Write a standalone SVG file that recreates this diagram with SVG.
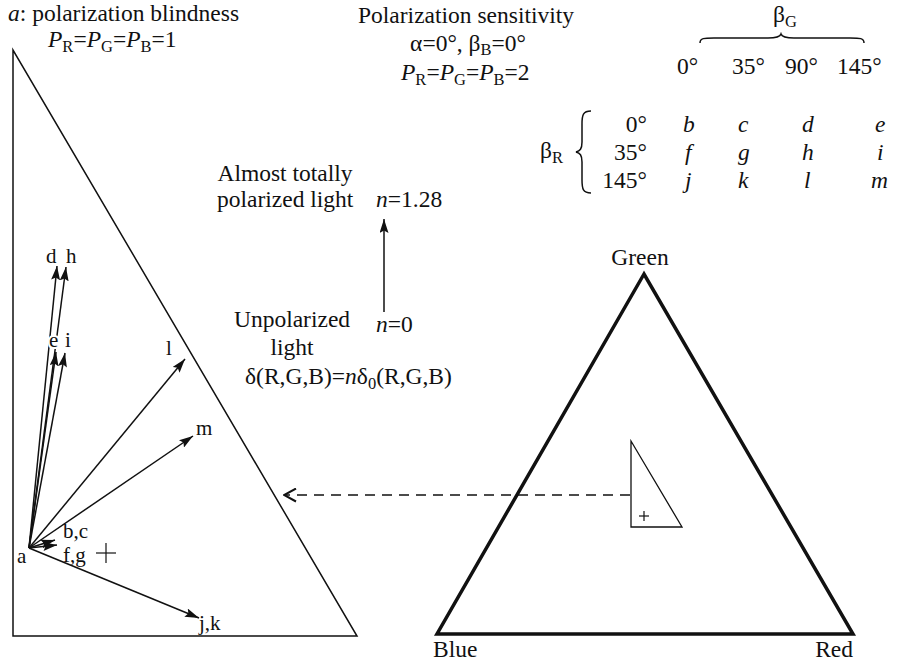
<svg xmlns="http://www.w3.org/2000/svg" width="919" height="663" viewBox="0 0 919 663" font-family="'Liberation Serif', 'DejaVu Serif', serif" font-size="23.5">
<style>
text{fill:#111}
.it{font-style:italic}
.sub{font-size:16.5px}
.lbl{font-size:21px}
.ko{stroke:#fff;stroke-width:4px;paint-order:stroke;stroke-linejoin:round}
.thin{fill:none;stroke:#111;stroke-width:1.5}
.thick{fill:none;stroke:#111;stroke-width:3.5;stroke-linejoin:miter}
.vec{fill:none;stroke:#111;stroke-width:1.5;marker-end:url(#ah)}
.dash{fill:none;stroke:#111;stroke-width:1.5;stroke-dasharray:10 7;marker-end:url(#oh)}
.cross{stroke:#111;stroke-width:1.2}
</style>
<defs>
<marker id="ah" viewBox="0 0 14 9" markerWidth="14" markerHeight="9" refX="14" refY="4.5" orient="auto" markerUnits="userSpaceOnUse">
<path d="M0,0 L14,4.5 L0,9 L2.5,4.5 z" fill="#111"/>
</marker>
<marker id="oh" viewBox="-1 -1 14 15" markerWidth="14" markerHeight="15" refX="12" refY="6.5" orient="auto" markerUnits="userSpaceOnUse">
<path d="M0,0 L12,6.5 L0,13" fill="none" stroke="#111" stroke-width="2"/>
</marker>
</defs>

<g id="title-left">
<text x="8" y="21"><tspan class="it">a</tspan>: polarization blindness</text>
<text x="48" y="47"><tspan class="it">P</tspan><tspan class="sub" dy="5">R</tspan><tspan dy="-5">=</tspan><tspan class="it">P</tspan><tspan class="sub" dy="5">G</tspan><tspan dy="-5">=</tspan><tspan class="it">P</tspan><tspan class="sub" dy="5">B</tspan><tspan dy="-5">=1</tspan></text>
</g>

<g id="title-right">
<text x="358" y="23">Polarization sensitivity</text>
<text x="468" y="51" text-anchor="middle">α=0°, β<tspan class="sub" dy="4">B</tspan><tspan dy="-4">=0°</tspan></text>
<text x="401" y="80"><tspan class="it">P</tspan><tspan class="sub" dy="5">R</tspan><tspan dy="-5">=</tspan><tspan class="it">P</tspan><tspan class="sub" dy="5">G</tspan><tspan dy="-5">=</tspan><tspan class="it">P</tspan><tspan class="sub" dy="5">B</tspan><tspan dy="-5">=2</tspan></text>
</g>

<g id="table">
<text x="773" y="22">β<tspan class="sub" dy="5">G</tspan></text>
<path class="thin" d="M700,43 C700,38 704,38 714,38 L768,38 C776,38 780,37 781,34 C782,37 786,38 794,38 L850,38 C860,38 864,38 864,43"/>
<text x="677" y="74">0°</text>
<text x="732" y="74">35°</text>
<text x="785" y="74">90°</text>
<text x="837" y="74">145°</text>
<text x="540" y="158">β<tspan class="sub" dy="5">R</tspan></text>
<path class="thin" d="M591,111 C583,111 582,115 582,124 L582,142 C582,149 580,151 576,152 C580,153 582,155 582,162 L582,180 C582,189 583,193 591,193"/>
<text x="647" y="132" text-anchor="end">0°</text>
<text x="647" y="160" text-anchor="end">35°</text>
<text x="647" y="188" text-anchor="end">145°</text>
<g class="it">
<text x="683" y="132">b</text><text x="738" y="132">c</text><text x="802" y="132">d</text><text x="875" y="132">e</text>
<text x="685" y="160">f</text><text x="738" y="160">g</text><text x="802" y="160">h</text><text x="877" y="160">i</text>
<text x="685" y="188">j</text><text x="738" y="188">k</text><text x="804" y="188">l</text><text x="871" y="188">m</text>
</g>
</g>

<g id="plot-a">
<path class="thin" d="M13,50 L13,636 L357,636 Z"/>
<line class="cross" x1="96" y1="553" x2="116" y2="553"/>
<line class="cross" x1="106" y1="543" x2="106" y2="563"/>
</g>

<g id="connectors">
<line class="vec" x1="29" y1="548" x2="57" y2="266"/>
<line class="vec" x1="29" y1="548" x2="66" y2="267"/>
<line class="vec" x1="29" y1="548" x2="56" y2="352"/>
<line class="vec" x1="29" y1="548" x2="65" y2="353"/>
<line class="vec" x1="29" y1="548" x2="185" y2="359"/>
<line class="vec" x1="29" y1="548" x2="193" y2="436"/>
<line class="vec" x1="29" y1="548" x2="55" y2="540"/>
<line class="vec" x1="29" y1="548" x2="57" y2="545"/>
<line class="vec" x1="29" y1="548" x2="199" y2="618"/>
<line class="vec" x1="384" y1="312" x2="384" y2="219"/>
<line class="dash" x1="630" y1="495" x2="284" y2="495"/>
</g>

<g id="vector-labels">
<text class="lbl ko" x="46" y="263">d</text>
<text class="lbl ko" x="66" y="263">h</text>
<text class="lbl ko" x="49" y="347">e</text>
<text class="lbl ko" x="65" y="347">i</text>
<text class="lbl" x="166" y="355">l</text>
<text class="lbl" x="196" y="435">m</text>
<text class="lbl" x="63" y="538">b,c</text>
<text class="lbl" x="63" y="562">f,g</text>
<text class="lbl" x="17" y="563">a</text>
<text class="lbl" x="199" y="630">j,k</text>
</g>

<g id="legend">
<text x="285" y="181" text-anchor="middle">Almost totally</text>
<text x="217" y="207">polarized light</text>
<text x="376" y="207"><tspan class="it">n</tspan>=1.28</text>
<text x="292" y="327" text-anchor="middle">Unpolarized</text>
<text x="292" y="355" text-anchor="middle">light</text>
<text x="376" y="332"><tspan class="it">n</tspan>=0</text>
<text x="245" y="384">δ(R,G,B)=<tspan class="it">n</tspan>δ<tspan class="sub" dy="5">0</tspan><tspan dy="-5">(R,G,B)</tspan></text>
</g>

<g id="rgb-triangle">
<path class="thick" d="M644,274 L437,634 L853,634 Z"/>
<text x="640" y="265" text-anchor="middle">Green</text>
<text x="433" y="657">Blue</text>
<text x="853" y="657" text-anchor="end">Red</text>
</g>

<g id="inset">
<path fill="none" stroke="#111" stroke-width="1.3" d="M631,441 L631,527 L682,527 Z"/>
<line class="cross" x1="639" y1="516" x2="649" y2="516"/>
<line class="cross" x1="644" y1="511" x2="644" y2="521"/>
</g>
</svg>
